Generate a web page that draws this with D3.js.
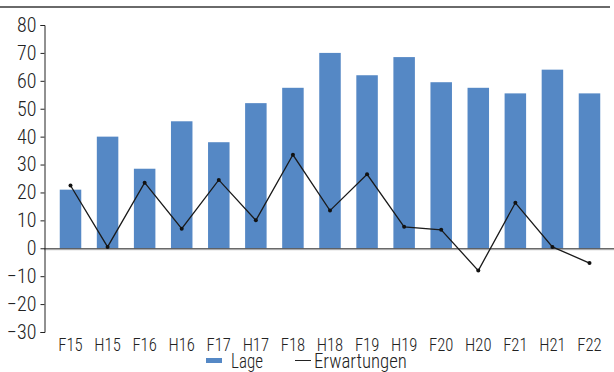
<!DOCTYPE html>
<html><head><meta charset="utf-8">
<script src="https://cdn.jsdelivr.net/npm/d3@7"></script>
<style>
body{margin:0;background:#fff;}
text{font-family:"Roboto Condensed","Liberation Sans Narrow","Arial Narrow",Roboto,sans-serif;font-weight:300;}
</style></head>
<body><svg id="c" width="614" height="372"></svg>
<script>
const categories = ["F15","H15","F16","H16","F17","H17","F18","H18","F19","H19","F20","H20","F21","H21","F22"];
const lage = [21,40,28.5,45.5,38,52,57.5,70,62,68.5,59.5,57.5,55.5,64,55.5];
const erwartungen = [22.5,0.5,23.5,7,24.5,10,33.5,13.5,26.5,7.7,6.6,-8,16.3,0.5,-5.3];
const yTicks = [80,70,60,50,40,30,20,10,0,-10,-20,-30];
const legendLabels = ["Lage","Erwartungen"];

const svg = d3.select("#c");
const x = d3.scaleBand().domain(categories).range([44,616]).paddingInner(0.42).paddingOuter(0.425);
const y = d3.scaleLinear().domain([-30,80]).range([332,25]);

function squeeze(sel, k){
  sel.each(function(){
    const w = this.getComputedTextLength();
    d3.select(this).attr("textLength", w*k).attr("lengthAdjust","spacingAndGlyphs");
  });
}

// top rule
svg.append("line").attr("x1",0).attr("x2",610).attr("y1",7).attr("y2",7).attr("stroke","#6a6a6a").attr("stroke-width",2);

// bars
svg.append("g").selectAll("rect").data(lage).join("rect")
  .attr("x",(d,i)=>x(categories[i])).attr("width",x.bandwidth())
  .attr("y",d=>y(Math.max(0,d))).attr("height",d=>Math.abs(y(d)-y(0)))
  .attr("fill","#5588c5");

// zero line
svg.append("line").attr("x1",44).attr("x2",614).attr("y1",y(0)+1.5).attr("y2",y(0)+1.5).attr("stroke","#c8c8c8").attr("stroke-width",1);
svg.append("line").attr("x1",44).attr("x2",614).attr("y1",y(0)+0.5).attr("y2",y(0)+0.5).attr("stroke","#333").attr("stroke-width",1);

// y axis
const ya = svg.append("g").attr("transform","translate(44.5,0)")
  .call(d3.axisLeft(y).tickValues(yTicks).tickSize(4).tickPadding(4).tickFormat(d3.format("d")));
ya.select(".domain").attr("stroke","#222");
ya.selectAll(".tick line").attr("stroke","#222");
ya.selectAll("text").attr("font-size",20).attr("fill","#222");

// line
const cx = c => x(c)+x.bandwidth()/2;
svg.append("path").datum(erwartungen)
  .attr("d",d3.line().x((d,i)=>cx(categories[i])).y(d=>y(d)))
  .attr("fill","none").attr("stroke","#1a1a1a").attr("stroke-width",1.3);
svg.append("g").selectAll("circle").data(erwartungen).join("circle")
  .attr("cx",(d,i)=>cx(categories[i])).attr("cy",d=>y(d)).attr("r",2).attr("fill","#111");

// x labels
svg.append("g").selectAll("text").data(categories).join("text")
  .attr("x",d=>cx(d)).attr("y",350.5).attr("text-anchor","middle")
  .attr("font-size",18.5).attr("fill","#222").text(d=>d)
  .call(squeeze, 0.9);

// legend
const lg = svg.append("g");
lg.append("rect").attr("x",206).attr("y",358).attr("width",16).attr("height",5).attr("fill","#5588c5");
lg.append("text").attr("x",231).attr("y",368).attr("font-size",20).attr("fill","#222").text(legendLabels[0]).call(squeeze,0.85);
lg.append("line").attr("x1",295).attr("x2",311).attr("y1",360.5).attr("y2",360.5).attr("stroke","#222").attr("stroke-width",1);
lg.append("text").attr("x",314).attr("y",368).attr("font-size",20).attr("fill","#222").text(legendLabels[1]).call(squeeze,0.94);
</script></body></html>
